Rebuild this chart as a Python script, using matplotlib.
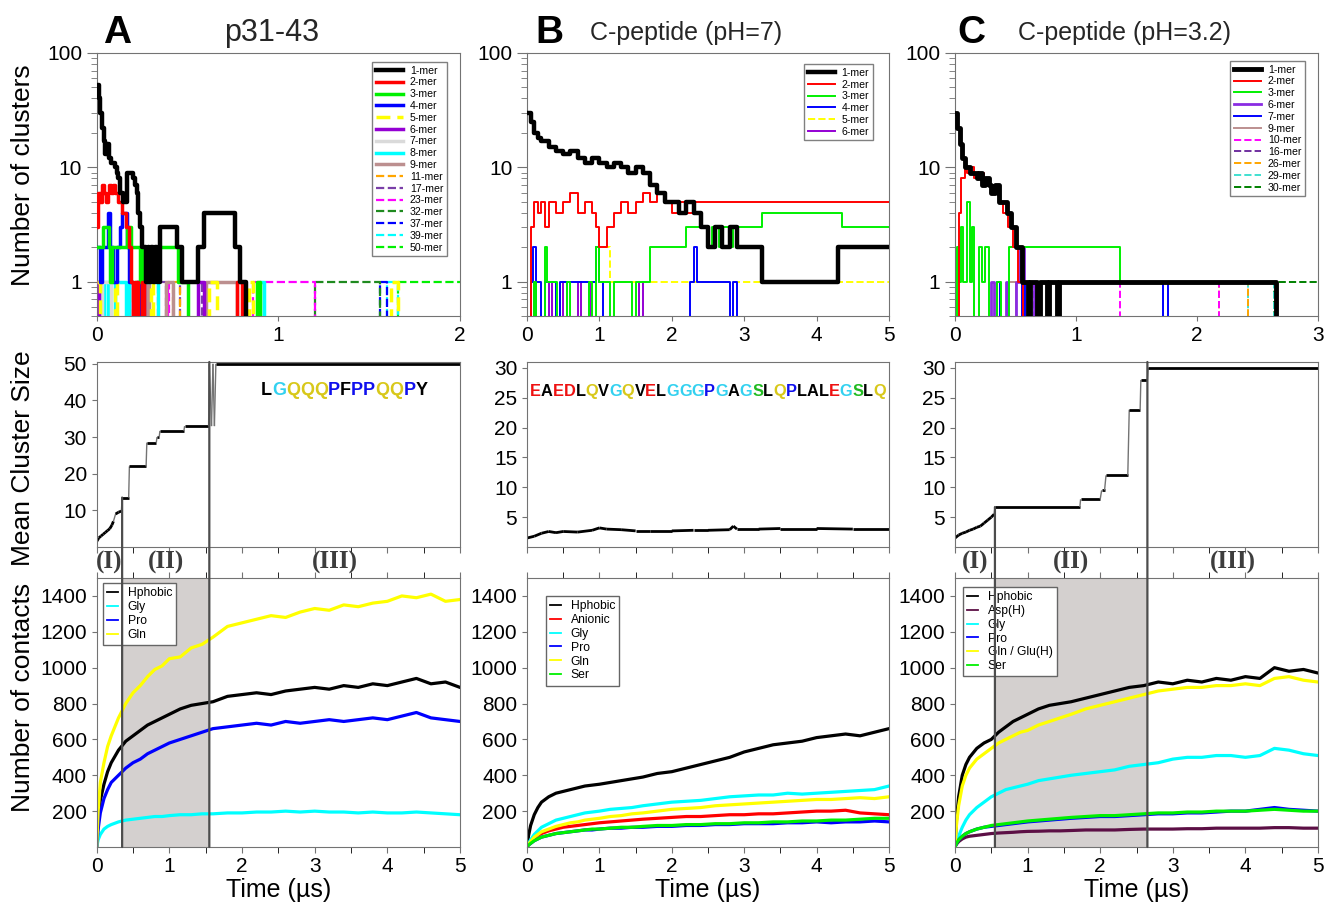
import numpy as np
import matplotlib.pyplot as plt
from matplotlib.patches import ConnectionPatch
from matplotlib.ticker import LogLocator, NullFormatter, MultipleLocator

plt.rcParams['font.family'] = ['Liberation Sans', 'DejaVu Sans']

# ---------------- row 1: number of clusters (step data) ----------------
# panel A (p31-43)
a_t1 = [0, 0.01, 0.02, 0.03, 0.04, 0.045, 0.055, 0.065, 0.08, 0.10, 0.11, 0.12, 0.13, 0.145, 0.165, 0.20, 0.21, 0.22,
        0.23, 0.24, 0.25, 0.27, 0.28, 0.29, 0.30, 0.31, 0.32, 0.33, 0.35, 0.44, 0.47, 0.56, 0.59, 0.76, 0.79, 0.82]
a_n1 = [52, 40, 30, 22, 17, 13, 16, 12, 11, 10, 9, 8, 6, 5, 9, 8, 7, 6,
        4, 3, 2, 1, 2, 1, 2, 1, 2, 1, 3, 2, 1, 2, 4, 2, 1, 0]
a_t2 = [0, 0.005, 0.02, 0.03, 0.04, 0.05, 0.06, 0.07, 0.08, 0.09, 0.10, 0.12, 0.14, 0.16, 0.18, 0.19, 0.20, 0.21,
        0.23, 0.25, 0.26, 0.77, 0.80]
a_n2 = [3, 6, 5, 7, 6, 5, 6, 7, 6, 7, 6, 5, 4, 3, 2, 1, 0, 1, 0, 1, 0, 1, 0]
a_t3 = [0, 0.035, 0.065, 0.075, 0.085, 0.165, 0.19, 0.24, 0.25, 0.45, 0.5, 0.88, 0.9]
a_n3 = [2, 3, 2, 1, 2, 3, 2, 1, 2, 1, 0, 1, 0]
a_t4 = [0, 0.02, 0.03, 0.06, 0.075, 0.09, 0.11, 0.13, 0.14, 0.165, 0.18, 0.2, 0.22, 0.24]
a_n4 = [2, 1, 2, 4, 2, 1, 2, 3, 4, 2, 1, 0, 1, 0]
a_t5 = [0, 0.02, 0.1, 0.11, 0.2, 0.22, 0.3, 0.31, 0.62, 0.66, 0.84, 0.86, 1.62, 1.66]
a_n5 = [1, 0, 1, 0, 1, 0, 1, 0, 1, 0, 1, 0, 1, 0]
a_t6 = [0, 0.01, 0.24, 0.26, 0.56, 0.59]
a_n6 = [1, 0, 1, 0, 1, 0]
a_t7 = [0, 0.03, 0.08]
a_n7 = [0, 1, 0]
a_t8 = [0, 0.04, 0.06, 0.1, 0.16, 0.18, 0.34, 0.9, 0.92]
a_n8 = [0, 1, 0, 1, 0, 1, 0, 1, 0]
a_t9 = [0, 0.27, 0.29, 0.38, 0.42, 0.6, 0.77]
a_n9 = [0, 1, 0, 1, 0, 1, 0]
a_t11 = [0, 0.42, 0.46]
a_n11 = [0, 1, 0]
a_t17 = [0, 0.34, 0.38, 0.46, 0.58]
a_n17 = [0, 1, 0, 1, 0]
a_t23 = [0, 0.39, 0.4, 0.86, 1.2]
a_n23 = [0, 1, 0, 1, 0]
a_t32 = [0, 1.2, 1.56]
a_n32 = [0, 1, 0]
a_t37 = [0, 1.56, 1.6]
a_n37 = [0, 1, 0]
a_t39 = [0, 1.6, 1.66]
a_n39 = [0, 1, 0]
a_t50 = [0, 1.66, 2.0]
a_n50 = [0, 1, 1]

# panel B (C-peptide pH=7)
b_t1 = [0, 0.05, 0.1, 0.15, 0.2, 0.3, 0.4, 0.5, 0.6, 0.7, 0.8, 0.9, 1.0, 1.1, 1.2, 1.3, 1.4, 1.5, 1.6, 1.7,
        1.8, 1.9, 2.0, 2.1, 2.2, 2.3, 2.4, 2.5, 2.6, 2.7, 2.8, 2.9, 3.0, 3.25, 4.3, 5.0]
b_n1 = [30, 25, 20, 18, 17, 15, 14, 13, 14, 12, 11, 12, 11, 10, 11, 10, 9, 10, 9, 7,
        6, 5, 5, 4, 5, 4, 3, 2, 3, 2, 3, 2, 2, 1, 2, 2]
b_t2 = [0, 0.05, 0.1, 0.15, 0.2, 0.25, 0.3, 0.4, 0.5, 0.6, 0.7, 0.8, 0.9, 0.95, 1.0, 1.1, 1.2, 1.3, 1.4, 1.5,
        1.6, 1.7, 1.8, 1.9, 2.0, 2.1, 2.2, 2.3, 2.5, 5.0]
b_n2 = [0, 3, 5, 4, 5, 3, 5, 4, 5, 6, 4, 5, 4, 3, 2, 3, 4, 5, 4, 5,
        6, 5, 6, 5, 4, 5, 4, 5, 5, 5]
b_t3 = [0, 0.1, 0.12, 0.25, 0.27, 0.4, 0.42, 0.55, 0.6, 0.85, 0.9, 0.95, 1.0, 1.15, 1.2, 1.45, 1.5, 1.7, 1.75,
        2.2, 2.5, 2.55, 2.65, 2.7, 2.8, 2.85, 3.25, 4.35, 5.0]
b_n3 = [0, 1, 0, 2, 1, 1, 0, 1, 0, 1, 0, 2, 1, 0, 1, 0, 1, 2, 2,
        3, 2, 3, 2, 3, 2, 3, 4, 3, 3]
b_t4 = [0, 0.05, 0.08, 0.12, 0.2, 0.25, 0.4, 0.45, 0.95, 1.0, 1.05, 2.25, 2.3, 2.35, 2.8, 2.85, 2.9]
b_n4 = [0, 1, 2, 1, 0, 1, 0, 1, 2, 1, 0, 1, 2, 1, 0, 1, 0]
b_t5 = [0, 0.9, 0.95, 1.1, 1.15, 5.0]
b_n5 = [0, 1, 2, 2, 1, 1]
b_t6 = [0, 0.1, 0.12, 0.3, 0.35, 0.5, 0.55, 0.7, 0.75, 0.85, 0.88, 1.55, 1.6]
b_n6 = [0, 1, 0, 1, 0, 1, 0, 1, 0, 1, 0, 1, 0]

# panel C (C-peptide pH=3.2)
c_t1 = [0, 0.02, 0.04, 0.06, 0.08, 0.1, 0.12, 0.15, 0.18, 0.2, 0.22, 0.25, 0.28, 0.3, 0.33, 0.36, 0.4, 0.43,
        0.46, 0.5, 0.55, 0.6, 0.62, 0.68, 0.7, 0.76, 0.78, 0.84, 0.86, 2.65]
c_n1 = [30, 22, 16, 12, 10, 10, 9, 9, 8, 9, 7, 8, 7, 6, 7, 5, 5, 4,
        3, 2, 1, 0, 1, 0, 1, 0, 1, 0, 1, 0]
c_t2 = [0, 0.03, 0.05, 0.08, 0.1, 0.13, 0.16, 0.2, 0.24, 0.28, 0.32, 0.36, 0.4, 0.44, 0.48, 0.52, 0.56]
c_n2 = [0, 4, 8, 10, 9, 10, 8, 9, 7, 7, 6, 5, 4, 3, 2, 1, 0]
c_t3 = [0, 0.02, 0.03, 0.05, 0.07, 0.1, 0.12, 0.14, 0.16, 0.2, 0.22, 0.25, 0.28, 0.35, 0.38, 0.45, 1.36, 1.4, 2.65]
c_n3 = [0, 2, 1, 3, 1, 5, 1, 3, 0, 2, 1, 2, 0, 1, 0, 2, 1, 1, 0]
c_t6 = [0, 0.3, 0.32, 0.42, 0.44, 0.5, 0.53, 0.57, 0.6, 0.65, 0.7]
c_n6 = [0, 1, 0, 1, 0, 1, 2, 1, 0, 1, 0]
c_t7 = [0, 0.35, 0.37, 0.55, 0.58, 1.72, 1.76]
c_n7 = [0, 1, 0, 1, 0, 1, 0]
c_t9 = [0, 0.45, 0.5]
c_n9 = [0, 1, 0]
c_t10 = [0, 1.36, 2.18]
c_n10 = [0, 1, 0]
c_t16 = [0, 0.6, 0.65]
c_n16 = [0, 1, 0]
c_t26 = [0, 2.18, 2.42]
c_n26 = [0, 1, 0]
c_t29 = [0, 2.42, 2.64]
c_n29 = [0, 1, 0]
c_t30 = [0, 2.64, 3.0]
c_n30 = [0, 1, 1]

# ---------------- row 2: mean cluster size ----------------
a2_t = [0, 0.03, 0.06, 0.09, 0.12, 0.15, 0.18, 0.21, 0.23, 0.26, 0.3, 0.34, 0.35, 0.44, 0.45, 0.68, 0.69,
        0.82, 0.83, 0.86, 0.87, 1.2, 1.21, 1.54, 1.55, 1.58, 1.6, 1.62, 1.64, 5.0]
a2_v = [1.5, 2.5, 3, 3.5, 4, 4.5, 5, 6, 7, 9, 9.5, 9.8, 13.5, 13.5, 22, 22, 28.5,
        28.5, 30, 30, 31.7, 31.7, 33, 33, 50, 33, 50, 33, 50, 50]
b2_t = [0, 0.1, 0.2, 0.3, 0.4, 0.5, 0.7, 0.9, 1.0, 1.1, 1.3, 1.5, 1.7, 2.0, 2.3, 2.5, 2.8, 2.85, 2.9, 3.2,
        3.5, 4.0, 4.5, 5.0]
b2_v = [1.5, 1.8, 2.3, 2.6, 2.4, 2.6, 2.5, 2.8, 3.2, 3.0, 2.9, 2.7, 2.7, 2.7, 2.8, 2.8, 2.9, 3.5, 3.0, 3.0,
        3.1, 3.1, 3.0, 3.0]
c2_t = [0, 0.05, 0.1, 0.15, 0.2, 0.25, 0.3, 0.35, 0.4, 0.45, 0.5, 0.54, 0.55, 1.72, 1.73, 2.0, 2.02, 2.06,
        2.08, 2.38, 2.4, 2.55, 2.56, 2.65, 2.66, 5.0]
c2_v = [1.5, 2.0, 2.3, 2.5, 2.8, 3.0, 3.3, 3.5, 4.0, 4.5, 5.0, 5.5, 6.7, 6.7, 8.0, 8.0, 9.5, 9.5,
        12, 12, 23, 23, 28, 28, 30, 30]

seq_A = 'LGQQQPFPPQQPY'
seq_B = 'EAEDLQVGQVELGGGPGAGSLQPLALEGSLQ'

# phase boundaries (µs)
phase_A = [0.35, 1.55]
phase_C = [0.55, 2.65]

# ---------------- row 3: number of contacts ----------------
t3 = [0, 0.02, 0.05, 0.1, 0.15, 0.2, 0.3, 0.4, 0.5, 0.6, 0.7, 0.8, 0.9, 1.0, 1.15, 1.3, 1.45, 1.6, 1.8, 2.0,
      2.2, 2.4, 2.6, 2.8, 3.0, 3.2, 3.4, 3.6, 3.8, 4.0, 4.2, 4.4, 4.6, 4.8, 5.0]

a_hph = [0, 150, 260, 350, 420, 470, 540, 590, 620, 650, 680, 700, 720, 740, 770, 790, 800, 810, 840, 850,
         860, 850, 870, 880, 890, 880, 900, 890, 910, 900, 920, 940, 910, 920, 890]
a_gly = [0, 40, 70, 100, 115, 125, 140, 150, 155, 160, 165, 170, 170, 175, 180, 180, 185, 185, 190, 190,
         195, 195, 200, 195, 200, 195, 195, 190, 195, 190, 190, 195, 190, 185, 180]
a_pro = [0, 100, 190, 270, 320, 360, 400, 440, 470, 490, 520, 540, 560, 580, 600, 620, 640, 660, 670, 680,
         690, 680, 700, 690, 700, 710, 700, 710, 720, 710, 730, 750, 720, 710, 700]
a_gln = [0, 200, 360, 470, 560, 620, 720, 800, 860, 900, 950, 990, 1010, 1050, 1060, 1110, 1130, 1170, 1230, 1250,
         1270, 1290, 1280, 1310, 1330, 1320, 1350, 1340, 1360, 1370, 1400, 1390, 1410, 1370, 1380]

b_hph = [0, 60, 120, 180, 220, 250, 280, 300, 310, 320, 330, 340, 345, 350, 360, 370, 380, 390, 410, 420,
         440, 460, 480, 500, 530, 550, 570, 580, 590, 610, 620, 630, 620, 640, 660]
b_ani = [0, 15, 30, 50, 65, 75, 90, 100, 110, 115, 120, 125, 130, 135, 140, 145, 150, 155, 160, 165,
         170, 170, 175, 180, 180, 185, 185, 190, 195, 200, 200, 205, 190, 185, 180]
b_gly = [0, 20, 40, 70, 90, 110, 130, 150, 160, 170, 180, 190, 195, 200, 210, 215, 220, 230, 240, 250,
         255, 260, 270, 280, 285, 290, 290, 300, 295, 300, 305, 310, 315, 320, 340]
b_pro = [0, 10, 20, 35, 45, 55, 65, 75, 80, 85, 90, 95, 95, 100, 105, 105, 110, 110, 115, 115,
         120, 120, 125, 125, 130, 130, 130, 135, 135, 140, 135, 140, 140, 145, 140]
b_gln = [0, 15, 30, 55, 70, 85, 100, 115, 125, 135, 140, 150, 155, 160, 170, 175, 185, 190, 200, 210,
         215, 220, 230, 235, 240, 245, 250, 255, 260, 265, 265, 270, 275, 270, 280]
b_ser = [0, 10, 20, 35, 45, 55, 65, 75, 80, 85, 90, 95, 100, 100, 105, 110, 110, 115, 120, 120,
         125, 125, 130, 130, 135, 135, 140, 140, 145, 145, 150, 150, 155, 160, 160]

c_hph = [0, 150, 280, 400, 460, 500, 550, 580, 600, 640, 670, 700, 720, 740, 770, 790, 800, 810, 830, 850,
         870, 890, 900, 920, 910, 930, 920, 940, 930, 950, 940, 1000, 980, 990, 970]
c_asp = [0, 15, 30, 45, 55, 60, 65, 70, 75, 78, 80, 82, 85, 87, 88, 90, 90, 92, 95, 95,
         95, 98, 100, 100, 100, 102, 102, 105, 105, 105, 105, 108, 108, 105, 105]
c_gly = [0, 30, 60, 110, 150, 180, 220, 250, 280, 300, 320, 330, 340, 350, 370, 380, 390, 400, 410, 420,
         430, 450, 460, 470, 490, 500, 500, 510, 510, 500, 510, 550, 540, 520, 510]
c_pro = [0, 20, 40, 60, 75, 85, 100, 110, 115, 120, 125, 130, 135, 140, 145, 150, 155, 160, 165, 170,
         170, 175, 180, 185, 185, 190, 190, 195, 200, 200, 210, 220, 210, 205, 200]
c_gln = [0, 120, 230, 340, 400, 440, 490, 520, 550, 580, 600, 620, 640, 650, 680, 700, 720, 740, 770, 790,
         810, 830, 850, 870, 880, 890, 890, 900, 900, 910, 900, 940, 950, 930, 920]
c_ser = [0, 20, 40, 60, 75, 85, 100, 110, 120, 125, 130, 135, 140, 145, 150, 155, 160, 165, 170, 175,
         175, 180, 185, 190, 190, 195, 195, 200, 200, 200, 205, 210, 205, 200, 200]

# ---------------- styles ----------------
LIME = '#00f000'
res_colors = {'L': 'black', 'F': 'black', 'Y': 'black', 'A': 'black', 'V': 'black',
              'G': '#33d1f0', 'Q': '#d8c81a', 'P': '#1010ee', 'E': '#ee1111', 'D': '#ee1111', 'S': '#22bb22'}
spine_col = '0.45'

fig = plt.figure(figsize=(13.26, 9.05), dpi=100)
W, H = 1326.0, 905.0


def add_ax(x0, x1, y0, y1):
    return fig.add_axes([x0 / W, 1 - y1 / H, (x1 - x0) / W, (y1 - y0) / H])


cols = [(96.7, 460), (527, 889), (955, 1318)]
ax1 = [add_ax(c[0], c[1], 53, 316) for c in cols]
ax2 = [add_ax(c[0], c[1], 362, 547) for c in cols]
ax3 = [add_ax(c[0], c[1], 578, 847) for c in cols]

for ax in ax1 + ax2 + ax3:
    for sp in ax.spines.values():
        sp.set_color(spine_col)
    ax.tick_params(labelsize=15, color=spine_col)

# ---- row 1 ----
series_A = [
    (a_t1, a_n1, '1-mer', 'black', '-', 3.2),
    (a_t2, a_n2, '2-mer', 'red', '-', 2.5),
    (a_t3, a_n3, '3-mer', LIME, '-', 2.5),
    (a_t4, a_n4, '4-mer', 'blue', '-', 2.5),
    (a_t5, a_n5, '5-mer', 'yellow', (0, (4, 2)), 2.5),
    (a_t6, a_n6, '6-mer', '#9400d3', '-', 2.5),
    (a_t7, a_n7, '7-mer', '#dadada', '-', 2.5),
    (a_t8, a_n8, '8-mer', 'cyan', '-', 2.5),
    (a_t9, a_n9, '9-mer', '#bc8f8f', '-', 2.5),
    (a_t11, a_n11, '11-mer', 'orange', '--', 1.6),
    (a_t17, a_n17, '17-mer', '#7a3fa8', '--', 1.6),
    (a_t23, a_n23, '23-mer', 'magenta', '--', 1.6),
    (a_t32, a_n32, '32-mer', '#1f8a1f', '--', 1.6),
    (a_t37, a_n37, '37-mer', 'blue', '--', 1.6),
    (a_t39, a_n39, '39-mer', 'cyan', '--', 1.6),
    (a_t50, a_n50, '50-mer', LIME, '--', 1.6),
]
series_B = [
    (b_t1, b_n1, '1-mer', 'black', '-', 3.2),
    (b_t2, b_n2, '2-mer', 'red', '-', 1.4),
    (b_t3, b_n3, '3-mer', LIME, '-', 1.4),
    (b_t4, b_n4, '4-mer', 'blue', '-', 1.4),
    (b_t5, b_n5, '5-mer', 'yellow', '--', 1.4),
    (b_t6, b_n6, '6-mer', '#9400d3', '-', 1.4),
]
series_C = [
    (c_t1, c_n1, '1-mer', 'black', '-', 3.5),
    (c_t2, c_n2, '2-mer', 'red', '-', 1.4),
    (c_t3, c_n3, '3-mer', LIME, '-', 1.4),
    (c_t6, c_n6, '6-mer', '#8a2be2', '-', 2.0),
    (c_t7, c_n7, '7-mer', 'blue', '-', 1.4),
    (c_t9, c_n9, '9-mer', '#bc8f8f', '-', 1.4),
    (c_t10, c_n10, '10-mer', 'magenta', '--', 1.4),
    (c_t16, c_n16, '16-mer', '#7030a0', '--', 1.4),
    (c_t26, c_n26, '26-mer', 'orange', '--', 1.4),
    (c_t29, c_n29, '29-mer', '#40e0d0', '--', 1.4),
    (c_t30, c_n30, '30-mer', '#008000', '--', 1.4),
]
row1 = [(series_A, 2, (0.964, 0.966)), (series_B, 5, (0.955, 0.958)), (series_C, 3, (0.964, 0.970))]
for ax, (series, xmax, anchor) in zip(ax1, row1):
    ax.set_yscale('log', nonpositive='clip')
    for i, (t, n, lab, col, ls, lw) in enumerate(series):
        ax.step(t, n, where='post', color=col, ls=ls, lw=lw, label=lab, zorder=40 - i)
    ax.set_ylim(0.5, 100)
    ax.set_xlim(0, xmax)
    ax.set_xticks(range(xmax + 1))
    ax.set_yticks([1, 10, 100], ['1', '10', '100'])
    ax.yaxis.set_minor_locator(LogLocator(base=10, subs=np.arange(2, 10)))
    ax.yaxis.set_minor_formatter(NullFormatter())
    ax.tick_params(axis='y', which='major', length=7)
    ax.tick_params(axis='y', which='minor', length=4, color=spine_col)
    leg = ax.legend(loc='upper right', bbox_to_anchor=anchor, borderaxespad=0, fontsize=7.6,
                    labelspacing=0.17, handlelength=2.6, handletextpad=0.6, borderpad=0.35,
                    fancybox=False, edgecolor='0.5', framealpha=1)
    leg.get_frame().set_linewidth(1.0)
    leg.set_zorder(100)

# ---- row 2 ----
row2 = [(a2_t, a2_v, (0, 50.5), [10, 20, 30, 40, 50]),
        (b2_t, b2_v, (0, 31), [5, 10, 15, 20, 25, 30]),
        (c2_t, c2_v, (0, 31), [5, 10, 15, 20, 25, 30])]
for ax, (t, v, ylim, yt) in zip(ax2, row2):
    for i in range(len(t) - 1):
        jump = abs(v[i + 1] - v[i]) > 1
        ax.plot(t[i:i + 2], v[i:i + 2], color='0.45' if jump else 'black',
                lw=1.0 if jump else 2.0, solid_capstyle='butt')
    ax.set_xlim(0, 5)
    ax.set_ylim(*ylim)
    ax.set_yticks(yt)
    ax.xaxis.set_major_locator(MultipleLocator(1))
    ax.xaxis.set_minor_locator(MultipleLocator(0.5))
    ax.tick_params(axis='x', which='both', labelbottom=False, length=4)


def color_seq(ax, x, y, letters, size):
    txt = ax.text(x, y, letters[0], color=res_colors[letters[0]], transform=ax.transAxes,
                  fontsize=size, fontweight='bold', va='bottom')
    for ch in letters[1:]:
        txt = ax.annotate(ch, xy=(1, 0), xycoords=txt, va='bottom', color=res_colors[ch],
                          fontsize=size, fontweight='bold')


color_seq(ax2[0], 0.452, 0.80, seq_A, 13)
color_seq(ax2[1], 0.008, 0.80, seq_B, 11.8)

# ---- row 3 ----
row3 = [
    [(a_hph, 'Hphobic', 'black'), (a_gly, 'Gly', 'cyan'), (a_pro, 'Pro', 'blue'), (a_gln, 'Gln', 'yellow')],
    [(b_hph, 'Hphobic', 'black'), (b_ani, 'Anionic', 'red'), (b_gly, 'Gly', 'cyan'), (b_pro, 'Pro', 'blue'),
     (b_gln, 'Gln', 'yellow'), (b_ser, 'Ser', LIME)],
    [(c_hph, 'Hphobic', 'black'), (c_asp, 'Asp(H)', '#5c0f45'), (c_gly, 'Gly', 'cyan'), (c_pro, 'Pro', 'blue'),
     (c_gln, 'Gln / Glu(H)', 'yellow'), (c_ser, 'Ser', LIME)],
]
anchors3 = [(0.017, 0.981), (0.052, 0.933), (0.022, 0.967)]
for ax, curves, anchor in zip(ax3, row3, anchors3):
    for v, lab, col in curves:
        ax.plot(t3, v, color=col, lw=2.3, label=lab)
    ax.set_xlim(0, 5)
    ax.set_ylim(0, 1500)
    ax.set_yticks(range(200, 1401, 200))
    ax.xaxis.set_major_locator(MultipleLocator(1))
    ax.xaxis.set_minor_locator(MultipleLocator(0.5))
    ax.tick_params(axis='x', which='both', top=True, length=4)
    ax.set_xlabel('Time (µs)', fontsize=18, labelpad=1)
    leg = ax.legend(loc='upper left', bbox_to_anchor=anchor, borderaxespad=0, fontsize=8.7,
                    labelspacing=0.15, handlelength=0.9, handletextpad=0.8, borderpad=0.35,
                    fancybox=False, edgecolor='0.4', framealpha=1)
    for h in leg.get_lines():
        h.set_linewidth(1.3)
    leg.get_frame().set_linewidth(1.0)

# phases: shading, boundary lines and labels
for a2, a3, (p0, p1), t, v in [(ax2[0], ax3[0], phase_A, a2_t, a2_v), (ax2[2], ax3[2], phase_C, c2_t, c2_v)]:
    a3.axvspan(p0, p1, color='#d4d0cf', zorder=0, lw=0)
    for p in (p0, p1):
        top = max(vv for tt, vv in zip(t, v) if tt <= p)
        if p == p1:
            top = a2.get_ylim()[1]
        con = ConnectionPatch(xyA=(p, top), coordsA=a2.transData, xyB=(p, 0), coordsB=a3.transData,
                              color='0.3', lw=1.6, zorder=5)
        fig.add_artist(con)
    for xc, lab in [(p0 / 2, '(I)'), ((p0 + p1) / 2, '(II)'), ((p1 + 5) / 2, '(III)')]:
        a3.text(xc, 1.058, lab, transform=a3.get_xaxis_transform(), ha='center', va='center',
                fontsize=18, fontweight='bold', color='#3d3d3d',
                family=['Liberation Serif', 'DejaVu Serif'], clip_on=False)

# titles and row labels
for x, s in [(117, 'A'), (549, 'B'), (971, 'C')]:
    fig.text(x / W, 1 - 33 / H, s, fontsize=28, fontweight='bold', ha='center', va='center')
for x, s, fs in [(272, 'p31-43', 22), (686, 'C-peptide (pH=7)', 18), (1125, 'C-peptide (pH=3.2)', 18)]:
    fig.text(x / W, 1 - 33 / H, s, fontsize=fs, ha='center', va='center', color='0.15')
for y, s in [(175, 'Number of clusters'), (458, 'Mean Cluster Size'), (697, 'Number of contacts')]:
    fig.text(23 / W, 1 - y / H, s, fontsize=19, rotation=90, ha='center', va='center')

fig.savefig('out.png', dpi=100)
